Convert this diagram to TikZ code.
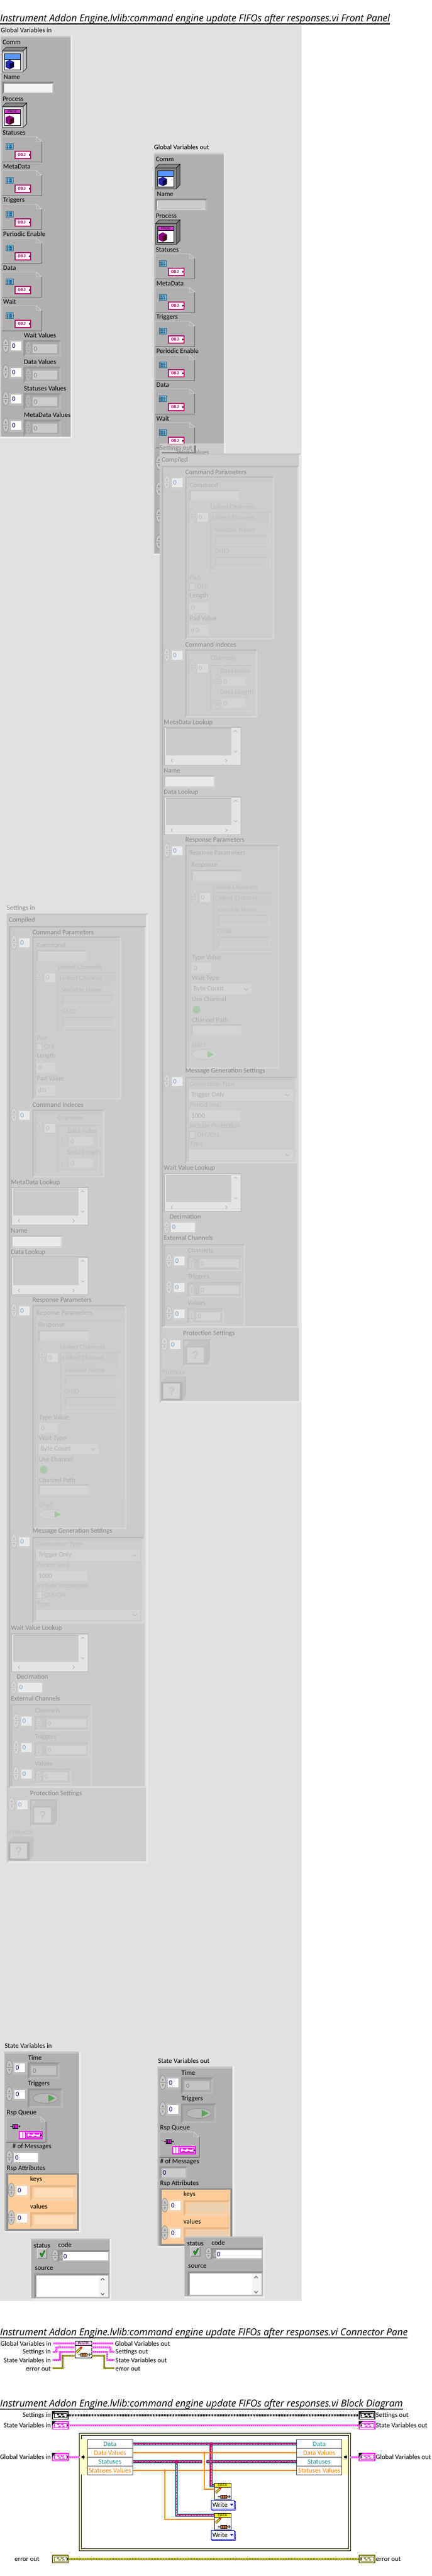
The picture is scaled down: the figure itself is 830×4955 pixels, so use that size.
\documentclass[tikz,border=0pt]{standalone}
\usepackage{fontspec}
\usepackage{graphicx}
\setmainfont{Carlito}
\newfontfamily\titlefont{Open Sans}
\newfontfamily\bitfont{Liberation Sans}
\newfontfamily\monob{Liberation Mono}
\newcommand\dg[1]{\definecolor{g#1}{HTML}{#1#1#1}}
\dg{00}\dg{40}\dg{60}\dg{70}\dg{80}\dg{88}\dg{90}\dg{99}\dg{A0}\dg{A8}\dg{AA}\dg{B0}\dg{B4}\dg{B8}\dg{B9}\dg{BC}\dg{BE}\dg{C0}\dg{C4}\dg{C6}\dg{C8}\dg{CA}\dg{CB}\dg{CC}\dg{CD}\dg{CE}\dg{D0}\dg{D2}\dg{D4}\dg{D6}\dg{D8}\dg{DA}\dg{DD}\dg{E0}\dg{E1}\dg{E4}\dg{E8}\dg{EA}\dg{ED}\dg{F4}
\definecolor{lvpink}{HTML}{FF00FF}
\definecolor{lvcrim}{HTML}{C0006A}
\definecolor{lvteal}{HTML}{008C8C}
\definecolor{lvorange}{HTML}{FF8000}
\definecolor{lvolive}{HTML}{6E6E00}
\definecolor{lvyellow}{HTML}{FFFF00}
\definecolor{lvblue}{HTML}{0066A0}
\definecolor{lvband}{HTML}{5A96FF}
\definecolor{lvproc}{HTML}{CC33CC}
\definecolor{lvcream}{HTML}{FFFFCC}
\definecolor{lvpeach}{HTML}{FFCC99}
\definecolor{lvpeachd}{HTML}{E6B88A}
\definecolor{lvpeachl}{HTML}{F4D4B0}
\definecolor{lvfin}{HTML}{FFDDBB}
\definecolor{lvfout}{HTML}{ECCFAF}
\definecolor{lvnav}{HTML}{000070}
\definecolor{lvwblue}{HTML}{0000E0}
\definecolor{lvpinkl}{HTML}{FFCCFF}
\definecolor{lvtealt}{HTML}{1A9090}
\definecolor{lvindex}{HTML}{7AA0D0}
\newcounter{nn}
\tikzset{
  lbl/.style={anchor=west,inner sep=0pt,font=\fontsize{13}{14}\selectfont,text=g00},
  lblr/.style={lbl,anchor=east},
  lA/.style={lbl,text=g88},
  lB/.style={lbl,text=gB0},
  lC/.style={lbl,text=gBC},
  ttl/.style={anchor=south west,inner sep=0pt},
  wpink/.style={draw=lvpink,line width=3pt,postaction={draw=white,line width=1pt,dash pattern=on 3pt off 1pt}},
  wblack/.style={draw=black,line width=3.4pt,dash pattern=on 1.5pt off 1.5pt},
  werr/.style={draw=lvolive,line width=3.4pt,postaction={draw=lvyellow,line width=1.2pt,dash pattern=on 1.5pt off 1.5pt}},
  wclass/.style={draw=lvteal,line width=5.6pt,postaction={draw=lvcrim,line width=3.4pt},postaction={draw=white,line width=1pt,dash pattern=on 4pt off 1.5pt}},
  worange/.style={draw=lvorange,line width=2pt},
  rowbox/.style={draw=g40,line width=1pt,fill=white,inner sep=0pt,minimum width=87pt,minimum height=17pt,font=\fontsize{13}{14}\selectfont},
  vnode/.style={draw=black,line width=1pt,fill=white,inner sep=0pt,minimum width=32pt,minimum height=32pt},
}
\newcommand\lab[4][lbl]{\stepcounter{nn}\node[#1] (t\thenn) at (#2,#3) {#4};}
\newcommand\bev[8]{\fill[#7] (#1,#2) rectangle (#3,#4);
  \fill[#6] (#1,#2) -- (#3,#2) -- ({#3-#5},{#2+#5}) -- ({#1+#5},{#2+#5}) -- ({#1+#5},{#4-#5}) -- (#1,#4) -- cycle;
  \fill[#8] ({#1+#5},{#2+#5}) rectangle ({#3-#5},{#4-#5});}
% spinner: x y w h fill stroke
\newcommand\spinner[6]{\draw[fill=#5,draw=#6,line width=.8pt] ({#1+#3/2},{#2+#4/2}) ellipse [x radius={#3/2},y radius={#4/2}];
  \draw[#6,line width=.6pt] (#1,{#2+#4/2}) -- ({#1+#3},{#2+#4/2});
  \fill[#6] ({#1+#3/2},{#2+#4*.2}) -- ({#1+#3/2-2},{#2+#4*.38}) -- ({#1+#3/2+2},{#2+#4*.38}) -- cycle;
  \fill[#6] ({#1+#3/2},{#2+#4*.8}) -- ({#1+#3/2-2},{#2+#4*.62}) -- ({#1+#3/2+2},{#2+#4*.62}) -- cycle;}
% index box: x y spinfill spinstroke framefill boxfill textstyle
\newcommand\idxb[7]{\fill[#5] ({#1+12},{#2+3}) rectangle ({#1+41},{#2+27});
  \fill[#6] ({#1+16},{#2+6}) rectangle ({#1+36},{#2+23});
  \spinner{#1}{#2}{12}{27}{#3}{#4}
  \lab[#7]{#1+18}{#2+14.5}{0}}
\newcommand\idxMain[2]{\idxb{#1}{#2}{gC8}{g90}{gBC}{white}{lbl,text=lvnav}}
\newcommand\idxOne[2]{\idxb{#1}{#2}{gD6}{gBC}{gCE}{gEA}{lbl,text=lvindex}}
\newcommand\idxTwo[2]{\idxb{#1}{#2}{gD0}{gC4}{gCC}{gDA}{lC}}
% grey table with scroll bars
\newcommand\grtable[2]{\bev{#1}{#2}{#1+149}{#2+74}{1.5}{gB8}{gB8}{gE4}
  \bev{#1+5}{#2+3}{#1+130}{#2+55}{1}{gB8}{gCB}{gCB}
  \draw[gB0,line width=1pt] ({#1+135},{#2+10}) -- ({#1+138},{#2+7}) -- ({#1+141},{#2+10});
  \draw[gB0,line width=1pt] ({#1+135},{#2+46}) -- ({#1+138},{#2+49}) -- ({#1+141},{#2+46});
  \draw[gB0,line width=1pt] ({#1+17},{#2+62}) -- ({#1+14},{#2+65}) -- ({#1+17},{#2+68});
  \draw[gB0,line width=1pt] ({#1+119},{#2+62}) -- ({#1+122},{#2+65}) -- ({#1+119},{#2+68});}
% linked channels block
\newcommand\linked[2]{\lab[lC]{#1+41}{#2-6}{Linked Channels}
  \idxTwo{#1}{#2}
  \bev{#1+41}{#2+4}{#1+156}{#2+119}{2}{gC6}{gD2}{gCC}
  \lab[lC]{#1+45}{#2+15}{Linked Channel}
  \bev{#1+47}{#2+27}{#1+152}{#2+113}{1.5}{gCA}{gD2}{gCD}
  \lab[lC]{#1+49}{#2+38}{Variable Name}
  \bev{#1+50}{#2+48}{#1+150}{#2+69}{2}{gC6}{gD2}{gCD}
  \lab[lC]{#1+49}{#2+79}{GUID}
  \bev{#1+50}{#2+90}{#1+150}{#2+110}{2}{gC6}{gD2}{gCD}}
\newcommand\extrow[3]{% y(top of spinner), label, x-right of frame
  \lab[lB]{67}{#1-6}{#2}
  \idxOne{25}{#1}
  \bev{66}{#1+4}{#3}{#1+34}{3}{gC4}{gD2}{gC8}
  \spinner{69}{#1+8}{11}{23}{gD0}{gC4}
}
\newcommand\cubebox[3]{% x y front colour
  \fill[gC4] (#1,{#2+10}) -- ({#1+10},#2) -- ({#1+48},#2) -- ({#1+41},{#2+10}) -- cycle;
  \fill[gC0] ({#1+41},{#2+10}) -- ({#1+48},#2) -- ({#1+48},{#2+36}) -- ({#1+41},{#2+46}) -- cycle;
  \fill[#3] (#1,{#2+10}) rectangle ({#1+41},{#2+46});
  \fill[gD4] ({#1+4},{#2+13}) rectangle ({#1+36},{#2+42});
  \node[inner sep=0pt,text=gC4,font=\bitfont\bfseries\fontsize{22}{22}\selectfont] at ({#1+20},{#2+28}) {?};
}
\newcommand\SettingsBody[1]{
  \bev{13}{1757}{285}{3584}{4}{gC8}{gE8}{gCD}
  \bev{17}{1781}{281}{3439}{3}{gB8}{gDD}{gCB}
  \lab[lA]{13}{1747}{#1}
  \lab[lA]{17}{1770}{Compiled}
  % Command Parameters
  \lab[lA]{62.5}{1793}{Command Parameters}
  \idxOne{21}{1799}
  \bev{62}{1801}{233}{2115}{3}{gBC}{gD6}{gCB}
  \bev{68}{1808}{231}{2108}{1.5}{gC6}{gD2}{gCD}
  \lab[lB]{71}{1818}{Command}
  \bev{70}{1827}{168}{1850}{3}{gC4}{gD0}{gD4}
  \linked{70}{1866}
  \lab[lC]{71}{1996}{Pad}
  \draw[gBE,fill=gD4,line width=.8pt] (70,2007) rectangle (81,2019);
  \lab[lC]{85}{2013}{OFF}
  \lab[lB]{71}{2031}{Length}
  \fill[gD4] (70,2044) rectangle (107,2064);
  \lab[lC]{74}{2054}{0}
  \lab[lB]{71}{2074}{Pad Value}
  \fill[gD4] (70,2087) rectangle (107,2107);
  \lab[lC]{73}{2097}{d\,0}
  % Command Indeces
  \lab[lA]{62.5}{2125}{Command Indeces}
  \idxOne{21}{2131}
  \bev{62}{2134}{201}{2265}{3}{gBC}{gD6}{gCB}
  \bev{68}{2141}{197}{2259}{1.5}{gC6}{gD2}{gCD}
  \lab[lC]{111}{2150}{Channels}
  \idxTwo{70}{2156}
  \bev{111}{2164}{191}{2255}{2}{gC6}{gD2}{gCD}
  \lab[lC]{130}{2175}{Data Index}
  \spinner{120}{2183}{10}{24}{gD0}{gC4}
  \fill[gD4] (133,2187) rectangle (179,2204);
  \lab[lC]{136}{2196}{0}
  \lab[lC]{130}{2217}{Data Length}
  \spinner{120}{2225}{10}{24}{gD0}{gC4}
  \fill[gD4] (133,2229) rectangle (179,2246);
  \lab[lC]{136}{2238}{0}
  % tables
  \lab[lA]{21}{2275}{MetaData Lookup}
  \grtable{21}{2283}
  \lab[lA]{21}{2367}{Name}
  \bev{21}{2376}{120}{2400}{3}{gC0}{gD4}{gEA}
  \lab[lA]{21}{2409}{Data Lookup}
  \grtable{21}{2417}
  % Response Parameters
  \lab[lA]{62.5}{2501}{Response Parameters}
  \idxOne{21}{2507}
  \bev{62}{2510}{243}{2941}{3}{gBC}{gD6}{gCB}
  \bev{68}{2517}{241}{2935}{1.5}{gC6}{gD2}{gCD}
  \lab[lB]{70}{2526}{Reponse Parameters}
  \bev{72}{2539}{236}{2884}{1.5}{gC6}{gD2}{gCD}
  \lab[lB]{74}{2549}{Response}
  \bev{74}{2558}{172}{2581}{3}{gC4}{gD0}{gD4}
  \linked{75}{2597}
  \lab[lB]{75}{2727}{Type Value}
  \fill[gD4] (75,2737) rectangle (112,2757);
  \lab[lC]{79}{2747}{0}
  \lab[lB]{75}{2767}{Wait Type}
  \draw[gD8,fill=gD4,line width=.8pt] (75,2778) rectangle (188,2796);
  \draw[gD8,line width=.8pt] (171,2778) -- (171,2796);
  \draw[gB0,line width=.8pt] (176,2786) -- (179.5,2790) -- (183,2786);
  \lab[lB]{78}{2787}{Byte Count}
  \lab[lB]{75}{2807}{Use Channel}
  \fill[gC0!90!green] (84,2827) circle [radius=7.5];
  \lab[lB]{75}{2847}{Channel Path}
  \bev{74}{2855}{172}{2877}{3}{gC4}{gD0}{gD4}
  \lab[lC]{75.5}{2895}{Use?}
  \draw[gC4,fill=gD2,line width=.8pt] (99,2913) ellipse [x radius=24,y radius=9.5];
  \fill[gC0!85!green] (105,2906.5) -- (118,2913) -- (105,2919.5) -- cycle;
  % Message Generation Settings
  \lab[lA]{62.5}{2945}{Message Generation Settings}
  \idxOne{21}{2951}
  \bev{62}{2956}{277}{3123}{3}{gBC}{gD6}{gCB}
  \bev{68}{2961}{273}{3120}{1.5}{gC6}{gD2}{gCD}
  \lab[lC]{71}{2971}{Generation Type}
  \draw[gD8,fill=gD4,line width=.8pt] (70,2981) rectangle (268,3001);
  \draw[gD8,line width=.8pt] (250,2981) -- (250,3001);
  \draw[gB0,line width=.8pt] (255,2990) -- (258.5,2993) -- (262,2990);
  \lab[lB]{74}{2991}{Trigger Only}
  \lab[lC]{71}{3011}{Period (sec)}
  \fill[gD4] (70,3021) rectangle (168,3041);
  \lab[lB]{74}{3031}{1000}
  \lab[lC]{71}{3050}{Include Protection}
  \draw[gBE,fill=gD4,line width=.8pt] (70,3061) rectangle (81,3074);
  \lab[lC]{85}{3068}{OFF/ON}
  \lab[lC]{71}{3086}{Type}
  \draw[gD8,fill=gD4,line width=.8pt] (70,3097) rectangle (268,3115);
  \draw[gD8,line width=.8pt] (251,3097) -- (251,3115);
  \draw[gB0,line width=.8pt] (256,3105) -- (259.5,3108) -- (263,3105);
  % Wait value lookup
  \lab[lA]{21}{3132}{Wait Value Lookup}
  \grtable{21}{3142}
  \lab[lA]{32}{3225}{Decimation}
  \fill[gCE] (32,3234) rectangle (84,3258);
  \spinner{21}{3233}{11}{25}{gD6}{gBC}
  \fill[gEA] (35,3236.5) rectangle (81,3255);
  \lab[lbl,text=lvindex]{37}{3245.5}{0}
  \lab[lA]{21}{3266.5}{External Channels}
  \bev{21}{3278}{177}{3437}{2.5}{gBC}{gD6}{gCB}
  \extrow{3296}{Channels}{172}
  \fill[gC6] (81,3307) rectangle (90,3323);
  \fill[gD4] (90,3307) rectangle (166,3323);
  \lab[lC]{92}{3315}{0}
  \extrow{3347}{Triggers}{172}
  \fill[gC6] (81,3358) rectangle (90,3374);
  \fill[gD4] (90,3358) rectangle (166,3374);
  \lab[lC]{92}{3366}{0}
  \extrow{3397.5}{Values}{137}
  \fill[gD4] (84,3409) rectangle (130,3425);
  \lab[lC]{86}{3417}{0}
  % Protection
  \lab[lA]{58}{3450}{Protection Settings}
  \fill[gCE] (29,3460) rectangle (58,3484);
  \fill[gEA] (33,3463) rectangle (53,3480);
  \spinner{16}{3457}{13}{26}{gD6}{gBC}
  \lab[lbl,text=lvindex]{35}{3471.5}{0}
  \bev{58}{3461}{112}{3514}{3}{gC0}{gD2}{gCB}
  \cubebox{62}{3464}{gC0}
  \lab[lC]{17.5}{3524}{Protocol}
  \cubebox{16}{3533}{gB4}
}
% front panel helpers
\newcommand\cube[4]{% x y top side
  \fill[#3] ({#1+8},#2) -- ({#1+16},{#2+4}) -- ({#1+16},{#2+14}) -- ({#1+8},{#2+18}) -- (#1,{#2+14}) -- (#1,{#2+4}) -- cycle;
  \fill[#4] ({#1+8},{#2+8}) -- ({#1+16},{#2+4}) -- ({#1+16},{#2+14}) -- ({#1+8},{#2+18}) -- cycle;}
\newcommand\bevcube[6]{% x y front side top band(1 blue,0 proc)
  \fill[#5,draw=g00,line width=.7pt] (#1,{#2+7}) -- ({#1+7},#2) -- ({#1+47},#2) -- ({#1+40},{#2+7}) -- cycle;
  \fill[#4,draw=g00,line width=.7pt] ({#1+40},{#2+7}) -- ({#1+47},#2) -- ({#1+47},{#2+40}) -- ({#1+40},{#2+47}) -- cycle;
  \draw[g40,fill=#3,line width=.7pt] (#1,{#2+7}) rectangle ({#1+40},{#2+47});
  \draw[black,fill=white,line width=.7pt] ({#1+4},{#2+12}) rectangle ({#1+35},{#2+43});
  \ifnum#6=1
    \draw[black,fill=lvband,line width=.7pt] ({#1+4},{#2+12}) rectangle ({#1+35},{#2+23});
    \cube{#1+6}{#2+24}{blue!60!black!85!white}{blue!25!black}
  \else
    \draw[black,fill=lvproc,line width=.7pt] ({#1+4},{#2+12}) rectangle ({#1+35},{#2+20});
    \node[inner sep=0pt,font=\bitfont\fontsize{6.5}{7}\selectfont] at ({#1+19.5},{#2+16}) {PROC};
    \cube{#1+6}{#2+24}{purple!70!blue}{purple!35!black}
  \fi}
\newcommand\tagbase[2]{
  \draw[gD8,line width=.8pt] (#1,{#2+48}) -- (#1,#2) -- ({#1+66},#2) -- ({#1+76},{#2+9}) -- ({#1+66},{#2+9}) -- ({#1+66},#2);
  \draw[g60,line width=.8pt] ({#1+76},{#2+9}) -- ({#1+76},{#2+48}) -- (#1,{#2+48});}
\newcommand\objtag[2]{\tagbase{#1}{#2}
  \draw[lvblue,fill=gB0,line width=1pt] ({#1+7.5},{#2+13}) rectangle ({#1+21.5},{#2+24});
  \foreach \i in {0,1,2} {\draw[lvblue,line width=.7pt] ({#1+9.5+\i*3.5},{#2+15}) rectangle ({#1+11.5+\i*3.5},{#2+18}); \draw[lvblue,line width=.7pt] ({#1+9.5+\i*3.5},{#2+20}) rectangle ({#1+11.5+\i*3.5},{#2+22.5});}
  \draw[lvcrim,fill=white,line width=2pt] ({#1+25},{#2+28}) rectangle ({#1+55},{#2+42});
  \node[inner sep=0pt,text=lvcrim,font=\monob\bfseries\fontsize{8.5}{9}\selectfont] at ({#1+38},{#2+35}) {OBJ};
  \fill[black] ({#1+52},{#2+33}) -- ({#1+55},{#2+35}) -- ({#1+52},{#2+37}) -- cycle;}
\newcommand\numarr[2]{% x y
  \idxMain{#1}{#2}
  \bev{#1+40}{#2+3}{#1+113}{#2+35}{4}{g99}{gB8}{gAA}
  \spinner{#1+44}{#2+6}{11}{25}{gB8}{gA0}
  \fill[gCC] ({#1+58},{#2+11}) rectangle ({#1+105},{#2+28});
  \lab[lbl,text=g80]{#1+60}{#2+20}{0}}
\newcommand\GVBody[3]{% label, front, side
  \fill[gB0] (1,69) rectangle (136,840);
  \fill[gCA] (1,69) rectangle (139,72);
  \fill[gED] (136,69) -- (139,69) -- (139,843) -- (1,843) -- (1,840) -- (136,840) -- cycle;
  \fill[gC0] (1,72) rectangle (3,840);
  \lab{1.5}{58}{#1}
  \lab{5}{81}{Comm}
  \bevcube{4.5}{91}{#2}{#3}{g88}{1}
  \lab{7}{148}{Name}
  \bev{4}{157}{104}{181}{3.5}{g88}{gB8}{gF4}
  \lab{5}{190}{Process}
  \bevcube{4.5}{198}{#2}{#3}{g88}{0}
  \lab{5}{255}{Statuses}\objtag{4}{263}
  \lab{6}{320}{MetaData}\objtag{4}{328}
  \lab{6}{385}{Triggers}\objtag{4}{393}
  \lab{6}{450}{Periodic Enable}\objtag{4}{458}
  \lab{6}{515}{Data}\objtag{4}{523}
  \lab{6}{580}{Wait}\objtag{4}{588}
  \lab{46}{645}{Wait Values}\numarr{5}{651}
  \lab{46}{696}{Data Values}\numarr{5}{702}
  \lab{46}{747}{Statuses Values}\numarr{5}{753}
  \lab{46}{798}{MetaData Values}\numarr{5}{804}
}
% state panel
\newcommand\StBody[2]{% label, mode
  \ifnum#2=1 \colorlet{lvfx}{lvfout}\else\colorlet{lvfx}{lvfin}\fi
  \fill[gB0] (303,3975) rectangle (447,4320);
  \fill[gC6] (303,3975) rectangle (451,3979);
  \fill[gED] (447,3975) -- (451,3975) -- (451,4323) -- (303,4323) -- (303,4320) -- (447,4320) -- cycle;
  \fill[gC0] (303,3979) rectangle (305,4320);
  \lab{304}{3964}{#1}
  \lab{349}{3987}{Time}
  \idxMain{307}{3992}
  \bev{348}{3996}{410}{4028}{4}{g99}{gB8}{gAA}
  \fill[gC4] (355,4003) rectangle (403,4020);
  \lab[lbl,text=g80]{358}{4012}{0}
  \lab{349}{4037}{Triggers}
  \idxMain{307}{4043}
  \bev{348}{4046}{416}{4084}{4}{g99}{gB8}{gAA}
  \draw[g90,fill=gB8,line width=1pt] (382.5,4065) ellipse [x radius=24,y radius=9.5];
  \fill[green!30!gray] (388,4058) -- (401,4065) -- (388,4072) -- cycle;
  \lab{308}{4093}{Rsp Queue}
  \tagbase{307}{4101}
  \draw[black,line width=.8pt] (315,4119) -- (333,4119);
  \draw[black,line width=.7pt] (332,4117) -- (334,4119) -- (332,4121);
  \draw[black,fill=lvpink,line width=.7pt] (319,4115) rectangle (329,4123);
  \draw[black,line width=.6pt] (322.3,4115) -- (322.3,4123) (325.6,4115) -- (325.6,4123);
  \draw[lvpink,fill=white,line width=2pt] (332,4129) rectangle (376,4143);
  \draw[lvpink,line width=1.5pt] (338.5,4129) -- (338.5,4143) (344,4129) -- (344,4143) (347,4132) rectangle (373,4140);
  \fill[lvpink] (352,4133) rectangle (358,4135) (362,4133) rectangle (370,4135) (350,4137) rectangle (356,4139) (360,4137) rectangle (365,4139);
  \fill[black] (372.5,4134) -- (376,4136) -- (372.5,4138) -- cycle;
  \ifnum#2=1
    \lab{308}{4158}{\# of Messages}
    \bev{307}{4167}{360}{4191}{3.5}{g99}{gB8}{gCC}
    \lab[lbl,text=lvnav]{313}{4179}{0}
  \else
    \lab{319}{4158}{\# of Messages}
    \spinner{307}{4165}{12}{26}{gC8}{g90}
    \bev{319}{4167}{371}{4191}{3}{gB8}{gB8}{white}
    \lab[lbl,text=lvnav]{324}{4179}{0}
  \fi
  \lab{308}{4200}{Rsp Attributes}
  \fill[g90] (307,4209) rectangle (447,4320);
  \fill[lvpeach] (311,4212) rectangle (443,4316);
  \lab{353}{4221}{keys}
  \idxb{311}{4228}{gC8}{g90}{lvpeachl}{white}{lbl,text=lvnav}
  \bev{353}{4232}{442}{4262}{4}{lvpeachd}{lvpeachl}{lvpeach}
  \fill[lvfx] (361,4238) rectangle (436,4256);
  \lab{353}{4273}{values}
  \idxb{311}{4281}{gC8}{g90}{lvpeachl}{white}{lbl,text=lvnav}
  \bev{353}{4284}{442}{4314}{4}{lvpeachd}{lvpeachl}{lvpeach}
  \fill[lvfx] (361,4290) rectangle (436,4308);
}
\newcommand\ErrBody{
  \fill[gB0] (60,4306) rectangle (211,4421);
  \fill[gC0] (60,4306) rectangle (214,4309);
  \fill[gED] (211,4306) -- (214,4306) -- (214,4425) -- (60,4425) -- (60,4421) -- (211,4421) -- cycle;
  \lab{65}{4319}{status}
  \lab{112}{4318}{code}
  \bev{71}{4324}{91}{4345}{2}{gD8}{g90}{gC0}
  \fill[green!80!black,draw=black,line width=.4pt] (77,4335) -- (79,4333.5) -- (80.5,4337) -- (85,4329) -- (87,4329) -- (81,4341) -- (79.5,4341) -- cycle;
  \spinner{100}{4327}{12}{23}{gC8}{g90}
  \bev{111}{4328}{211}{4351}{3.5}{g90}{gB8}{white}
  \fill[g99] (114.5,4331.5) rectangle (121,4347.5);
  \lab[lbl,text=gD8]{115.5}{4340}{d}
  \lab[lbl,text=lvnav]{122}{4340}{0}
  \lab{67}{4363}{source}
  \bev{66}{4373}{211}{4421}{3.5}{g90}{gB8}{white}
  \fill[gF4] (190,4376.5) rectangle (207.5,4417.5);
  \draw[g60,line width=1.2pt] (194,4386) -- (197.5,4382.5) -- (201,4386);
  \draw[g60,line width=1.2pt] (194,4411) -- (197.5,4414.5) -- (201,4411);
}
\newcommand\pencil[2]{% x y lower-left
  \draw[black,line width=4pt] (#1,#2) -- ({#1+9},{#2-9});
  \draw[yellow!75!orange,line width=2.6pt] (#1,#2) -- ({#1+9},{#2-9});
  \draw[red,line width=3pt] ({#1+7.5},{#2-7.5}) -- ({#1+10.5},{#2-10.5});}
\newcommand\fifo[2]{% x y
  \draw[black,line width=.8pt] (#1,#2) -- ({#1+24},#2);
  \draw[black,line width=.8pt] ({#1+21},{#2-3}) -- ({#1+24},#2) -- ({#1+21},{#2+3});
  \fill[brown!70!orange,draw=black,line width=.6pt] ({#1+5},{#2-3}) rectangle ({#1+17},{#2+3});
  \draw[black,line width=.5pt] ({#1+9},{#2-3}) -- ({#1+9},{#2+3}) ({#1+13},{#2-3}) -- ({#1+13},{#2+3});}
% terminal: name x y colour side corner
\newcommand\term[6]{
  \node[draw=#4,line width=1.6pt,fill=white,inner sep=0pt,minimum width=30.5pt,minimum height=14.5pt] (#1) at ({#2+16},{#3+8}) {};
  \draw[#4,line width=1pt] ({#2+4},{#3+4}) rectangle ({#2+28},{#3+12});
  \fill[#4] ({#2+10},{#3+5.5}) rectangle ({#2+14},{#3+7.5}) ({#2+17},{#3+5.5}) rectangle ({#2+22},{#3+7.5}) ({#2+12},{#3+9}) rectangle ({#2+17},{#3+11}) ({#2+20},{#3+9}) rectangle ({#2+24},{#3+11});
  \ifnum#5=1 \fill[black] ({#2+28.5},{#3+5}) -- ({#2+31.5},{#3+8}) -- ({#2+28.5},{#3+11}) -- cycle;\fi
  \ifnum#5=2 \fill[black] ({#2+3.5},{#3+5}) -- ({#2+6.5},{#3+8}) -- ({#2+3.5},{#3+11}) -- cycle;\fi
  \ifnum#6=1 \fill[black] (#2,#3) -- ({#2+8},#3) -- (#2,{#3+8}) -- cycle;\fi
}
\newcommand\dnode[3]{% name x y(top)
  \node[vnode] (#1) at ({#2+16},{#3+16}) {};
  \draw[black,fill=lvyellow,line width=.8pt] (#2,#3) rectangle ({#2+32},{#3+8});
  \node[inner sep=0pt,font=\bitfont\fontsize{7}{8}\selectfont] at ({#2+16},{#3+4.3}) {DATA};
  \pencil{#2+3}{#3+19}
  \fifo{#2+7}{#3+26}}
\newcommand\writen[3]{% name x y
  \draw[lvwblue,fill=white,line width=1pt] ({#2+2},{#3+2}) rectangle ({#2+47},{#3+19});
  \node[draw=lvwblue,fill=white,line width=1pt,inner sep=0pt,minimum width=44pt,minimum height=17pt,anchor=north west,font=\fontsize{13}{14}\selectfont] (#1) at (#2,#3) {\hspace*{-10pt}Write};
  \fill[lvwblue] ({#2+37},{#3+7}) -- ({#2+43},{#3+7}) -- ({#2+40},{#3+11}) -- cycle;}
\begin{document}
\begin{tikzpicture}[x=1pt,y=-1pt,line cap=butt]
\useasboundingbox (0,0) rectangle (830,4955);
\fill[white] (0,0) rectangle (830,4955);
\fill[gE1] (0,48.5) rectangle (580,4425.5);
% titles
\node[ttl] (title1) at (0,46) {\resizebox{750pt}{!}{\titlefont\itshape Instrument Addon Engine.lvlib:command engine update FIFOs after responses.vi Front Panel}};
\draw[black,line width=1.6pt] (title1.south west) -- (title1.south east);
\node[ttl] (title2) at (0,4497) {\resizebox{784pt}{!}{\titlefont\itshape Instrument Addon Engine.lvlib:command engine update FIFOs after responses.vi Connector Pane}};
\draw[black,line width=1.6pt] (title2.south west) -- (title2.south east);
\node[ttl] (title3) at (0,4634) {\resizebox{775pt}{!}{\titlefont\itshape Instrument Addon Engine.lvlib:command engine update FIFOs after responses.vi Block Diagram}};
\draw[black,line width=1.6pt] (title3.south west) -- (title3.south east);
% Global Variables in
\GVBody{Global Variables in}{gD8}{gC0}
% Global Variables out
\begin{scope}[shift={(294.7,225)}]
\GVBody{Global Variables out}{g88}{g70}
\fill[gCC] (8,160) rectangle (100,177);
\end{scope}
% Settings in
\SettingsBody{Settings in}
% Settings out
\begin{scope}[shift={(294,-885)}]
\fill[gD6,opacity=.75] (13,1738) rectangle (137,1757);
\fill[g80] (79,1742) rectangle (83,1758);
\fill[g80] (17,1755) rectangle (83,1758);
\SettingsBody{Settings out}
\end{scope}
\lab[lbl,text=g99]{340}{870}{Wait Values}
% State panels
\StBody{State Variables out}{1}
\begin{scope}[shift={(-295,-29)}]
\StBody{State Variables in}{0}
\end{scope}
\ErrBody
\begin{scope}[shift={(295,-4)}]
\ErrBody
\end{scope}
% Connector pane
\lab[lblr]{99}{4508}{Global Variables in}
\lab[lblr]{98}{4524}{Settings in}
\lab[lblr]{98}{4540}{State Variables in}
\lab[lblr]{98}{4556}{error out}
\lab{221}{4508}{Global Variables out}
\lab{222}{4524}{Settings out}
\lab{222}{4540}{State Variables out}
\lab{222}{4556}{error out}
\node[vnode] (icon) at (160,4519) {};
\draw[black,fill=lvpinkl,line width=.8pt] (144,4503) rectangle (176,4511);
\node[inner sep=0pt,font=\bitfont\fontsize{7}{8}\selectfont] (instr) at (160,4507.3) {INSTR};
\pencil{147}{4525}
\fifo{150}{4529}
\coordinate (cpa) at (102,4507.5);\coordinate (cpa2) at (144,4507.5);
\coordinate (cpb) at (101,4523.5);\coordinate (cpb2) at (144,4515.5);
\coordinate (cpc) at (101,4539.5);\coordinate (cpc2) at (144,4523.5);
\coordinate (cpd) at (101,4555.5);\coordinate (cpd2) at (144,4531.5);
\coordinate (cqa) at (176,4507.5);\coordinate (cqa2) at (218,4507.5);
\coordinate (cqb) at (176,4515.5);\coordinate (cqb2) at (220,4523.5);
\coordinate (cqc) at (176,4523.5);\coordinate (cqc2) at (220,4539.5);
\coordinate (cqd) at (176,4531.5);\coordinate (cqd2) at (220,4555.5);
\draw[wpink] (cpa) -- (cpa2);
\draw[wpink] (cpb) -- (108.5,4523.5) -- (108.5,4515.5) -- (cpb2);
\draw[wpink] (cpc) -- (115.2,4539.5) -- (115.2,4523.5) -- (cpc2);
\draw[werr] (cpd) -- (120.7,4555.5) -- (120.7,4531.5) -- (cpd2);
\draw[wpink] (cqa) -- (cqa2);
\draw[wpink] (cqb) -- (212.5,4515.5) -- (212.5,4523.5) -- (cqb2);
\draw[wpink] (cqc) -- (206.5,4523.5) -- (206.5,4539.5) -- (cqc2);
\draw[werr] (cqd) -- (200.5,4531.5) -- (200.5,4555.5) -- (cqd2);
% Block diagram
\lab[lblr]{98}{4646}{Settings in}
\lab[lblr]{98}{4665}{State Variables in}
\lab[lblr]{98}{4726}{Global Variables in}
\lab[lblr]{76}{4922}{error out}
\lab{723}{4646}{Settings out}
\lab{723}{4665}{State Variables out}
\lab{723}{4726}{Global Variables out}
\lab{723}{4922}{error out}
\term{tSi}{100}{4638}{black}{1}{1}
\term{tSo}{690}{4638}{black}{2}{1}
\term{tVi}{100}{4657}{lvpink}{1}{1}
\term{tVo}{690}{4657}{lvpink}{2}{1}
\term{tGi}{100}{4718}{lvpink}{1}{1}
\term{tGo}{690}{4718}{lvpink}{2}{1}
\term{tEi}{100}{4914}{lvolive}{1}{0}
\term{tEo}{690}{4914}{lvolive}{2}{0}
\draw[wblack] (tSi.east) -- (tSo.west);
\draw[wpink] (tVi.east) -- (tVo.west);
\draw[werr] (tEi.east) -- (tEo.west);
% structure
\draw[black,fill=lvcream,line width=1pt] (152.5,4680.5) rectangle (674,4906);
\draw[black,fill=white,line width=1pt] (156.5,4684.5) rectangle (670,4902);
\node[fill=lvcream,inner sep=0pt,minimum width=12pt,minimum height=68pt] (tabL) at (162,4726) {};
\node[fill=lvcream,inner sep=0pt,minimum width=12pt,minimum height=68pt] (tabR) at (664,4726) {};
\fill[black] (157,4724) rectangle (160,4728) (160,4721.5) -- (163,4726) -- (160,4730.5) -- cycle;
\fill[black] (662,4724) rectangle (665,4728) (665,4721.5) -- (668,4726) -- (665,4730.5) -- cycle;
\coordinate (sgl) at (152.5,4726);
\coordinate (sgr) at (674,4726);
\draw[wpink] (tGi.east) -- (sgl);
\draw[wpink] (sgr) -- (tGo.west);
\foreach \nm/\yy/\tx/\cc in {D/4701/Data/lvtealt,V/4718/Data Values/lvorange,S/4735/Statuses/lvtealt,W/4752/Statuses Values/lvorange} {
  \node[rowbox,text=\cc] (u\nm) at (211.5,\yy) {\tx};
  \node[rowbox,text=\cc] (b\nm) at (614,\yy) {\tx};
}
\dnode{dn1}{412}{4776}
\dnode{dn2}{412}{4834}
\writen{wr1}{405.7}{4809}
\writen{wr2}{405.7}{4867}
\coordinate (jD) at (406,4701);
\coordinate (jV) at (393,4718);
\coordinate (jS) at (339.5,4735);
\coordinate (jW) at (317,4752);
\coordinate (pD) at (412,4780.7);
\coordinate (pV) at (412,4787.7);
\coordinate (pS) at (412,4838);
\coordinate (pW) at (412,4846);
\draw[worange] (uW.east) -- (bW.west);
\draw[worange] (jW) |- (pW);
\draw[wclass] (jD) |- (pD);
\draw[wclass] (jS) |- (pS);
\draw[wclass] (uD.east) -- (bD.west);
\draw[wclass] (uS.east) -- (bS.west);
\fill[white] (389,4731) rectangle (397,4739);
\draw[worange] (uV.east) -- (bV.west);
\draw[worange] (jV) |- (pV);
\fill[lvcrim] (jD) circle [radius=3.5];
\fill[lvcrim] (jS) circle [radius=3.5];
\fill[lvorange] (jV) circle [radius=2.2];
\fill[lvorange] (jW) circle [radius=2.2];
\end{tikzpicture}
\end{document}
